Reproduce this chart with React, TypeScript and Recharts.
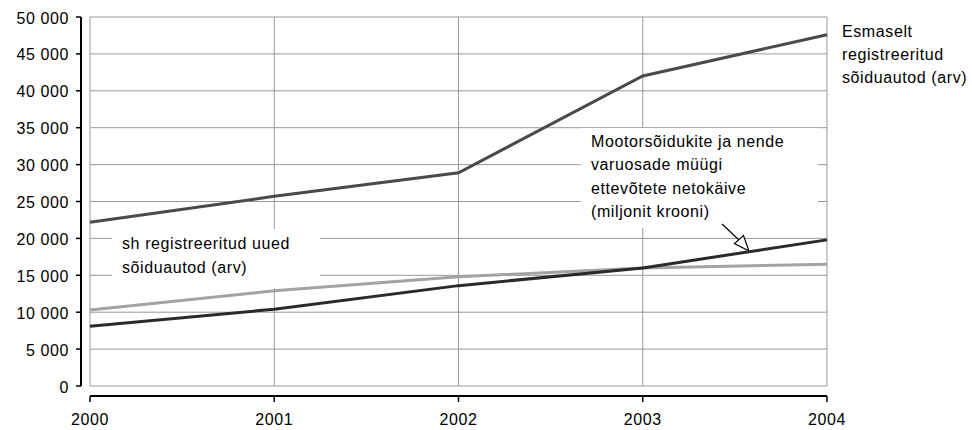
import React from 'react';
import { LineChart, Line, XAxis, YAxis, CartesianGrid } from 'recharts';

const years = ['2000', '2001', '2002', '2003', '2004'];
const registeredCars = [22200, 25700, 28900, 42000, 47600];
const newRegisteredCars = [10300, 12900, 14800, 16000, 16500];
const salesTurnover = [8100, 10400, 13600, 16000, 19800];
const yTicks = [0, 5000, 10000, 15000, 20000, 25000, 30000, 35000, 40000, 45000, 50000];

const data = years.map((y, i) => ({
  year: y,
  registered: registeredCars[i],
  newRegistered: newRegisteredCars[i],
  turnover: salesTurnover[i],
}));

const W = 972;
const H = 430;
const M = { top: 17, right: 145, bottom: 0, left: 0 };
const Y_AXIS_W = 90;
const X_AXIS_H = 44;
const PLOT_L = M.left + Y_AXIS_W;
const PLOT_R = W - M.right;
const PLOT_T = M.top;
const PLOT_B = H - M.bottom - X_AXIS_H;
const Y_OFF = 9;
const X_OFF = 10;

const FONT = '"Liberation Sans", Arial, sans-serif';
const textStyle = { fontFamily: FONT, fontSize: 16, letterSpacing: '0.6px' } as React.CSSProperties;

const fmt = (v: number) => String(v).replace(/\B(?=(\d{3})+(?!\d))/g, ' ');

const YTick = (props: any) => {
  const { x, y, payload } = props;
  return (
    <g>
      <line x1={x - Y_OFF - 5} x2={x - Y_OFF} y1={y} y2={y} stroke="#000" strokeWidth={1.5} />
      <text x={x - 21} y={y + 6.5} textAnchor="end" fill="#000" style={textStyle}>
        {fmt(payload.value)}
      </text>
    </g>
  );
};

const XTick = (props: any) => {
  const { x, y, payload } = props;
  return (
    <g>
      <line x1={x} x2={x} y1={y + X_OFF} y2={y + X_OFF + 6} stroke="#000" strokeWidth={1.5} />
      <text x={x} y={y + 39} textAnchor="middle" fill="#000" style={textStyle}>
        {payload.value}
      </text>
    </g>
  );
};

export default function App() {
  return (
    <div style={{ position: 'absolute', left: 0, top: 0, width: W, height: H, background: '#fff' }}>
      <LineChart width={W} height={H} data={data} margin={M}>
        <CartesianGrid stroke="#999" strokeWidth={1} />
        <XAxis
          dataKey="year"
          height={X_AXIS_H}
          tickSize={0}
          tickMargin={0}
          axisLine={false}
          tickLine={false}
          tick={<XTick />}
        />
        <YAxis
          width={Y_AXIS_W}
          domain={[0, 50000]}
          ticks={yTicks}
          tickSize={0}
          tickMargin={0}
          axisLine={false}
          tickLine={false}
          tick={<YTick />}
        />
        <line x1={PLOT_L - Y_OFF} x2={PLOT_L - Y_OFF} y1={PLOT_T} y2={PLOT_B} stroke="#000" strokeWidth={2} />
        <line x1={PLOT_L} x2={PLOT_R} y1={PLOT_B + X_OFF} y2={PLOT_B + X_OFF} stroke="#000" strokeWidth={2} />
        <rect x={112} y={229} width={208} height={59} fill="#fff" />
        <rect x={581} y={128} width={237} height={100} fill="#fff" />
        <Line dataKey="registered" stroke="#4a4a4a" strokeWidth={3} dot={false} isAnimationActive={false} />
        <Line dataKey="newRegistered" stroke="#a3a3a3" strokeWidth={3} dot={false} isAnimationActive={false} />
        <Line dataKey="turnover" stroke="#2a2a2a" strokeWidth={3} dot={false} isAnimationActive={false} />
        <text fill="#000" style={textStyle}>
          <tspan x={842} y={37}>Esmaselt</tspan>
          <tspan x={842} y={60}>registreeritud</tspan>
          <tspan x={842} y={83}>sõiduautod (arv)</tspan>
        </text>
        <text fill="#000" style={textStyle}>
          <tspan x={122} y={249}>sh registreeritud uued</tspan>
          <tspan x={122} y={273}>sõiduautod (arv)</tspan>
        </text>
        <text fill="#000" style={textStyle}>
          <tspan x={591} y={147}>Mootorsõidukite ja nende</tspan>
          <tspan x={591} y={170}>varuosade müügi</tspan>
          <tspan x={591} y={194}>ettevõtete netokäive</tspan>
          <tspan x={591} y={217}>(miljonit krooni)</tspan>
        </text>
        <line x1={722} y1={224} x2={739} y2={240} stroke="#000" strokeWidth={1.2} />
        <polygon points="749,251 734.5,243.5 743.5,235.5" fill="#fff" stroke="#000" strokeWidth={1.2} />
      </LineChart>
    </div>
  );
}
